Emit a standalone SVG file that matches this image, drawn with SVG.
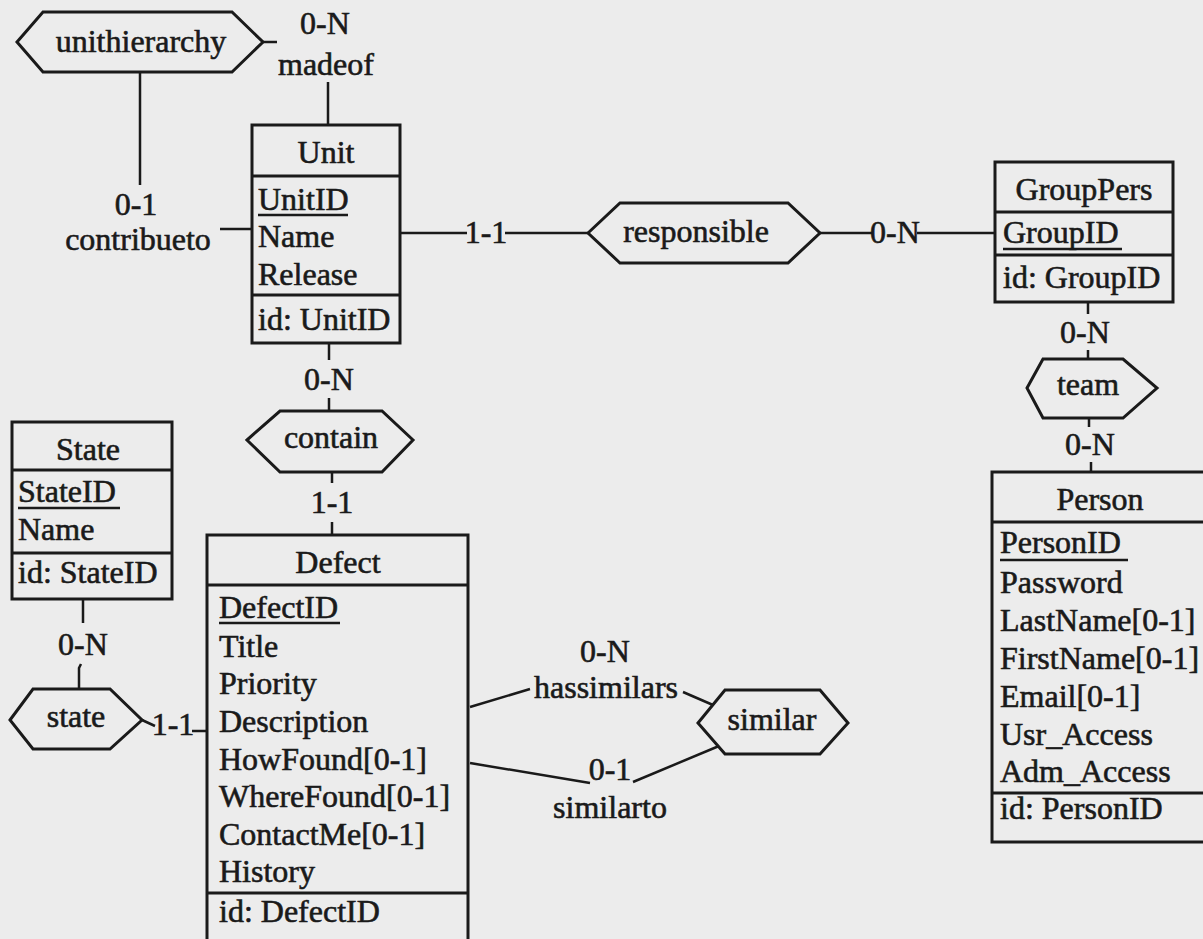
<svg xmlns="http://www.w3.org/2000/svg" width="1203" height="939" viewBox="0 0 1203 939">
<style>
text{font-family:"Liberation Serif","DejaVu Serif",serif;font-size:32px;fill:#1a1a1a;stroke:#1a1a1a;stroke-width:0.6}
.c{text-anchor:middle}
.box{fill:none;stroke:#1a1a1a;stroke-width:3}
.sep{stroke:#1a1a1a;stroke-width:3}
.ul{stroke:#1a1a1a;stroke-width:2.5}
.hex{fill:none;stroke:#1a1a1a;stroke-width:3;stroke-linejoin:miter}
.ln{fill:none;stroke:#1a1a1a;stroke-width:2.5}
</style>
<rect x="0" y="0" width="1203" height="939" fill="#ececec"/>

<g id="connectors">
  <line class="ln" x1="263" y1="42" x2="277" y2="42"/>
  <line class="ln" x1="328" y1="82" x2="328" y2="125"/>
  <line class="ln" x1="140" y1="72" x2="140" y2="185"/>
  <line class="ln" x1="220" y1="229" x2="252" y2="229"/>
  <line class="ln" x1="400" y1="233" x2="467" y2="233"/>
  <line class="ln" x1="505" y1="233" x2="588" y2="233"/>
  <line class="ln" x1="820" y1="233" x2="873" y2="233"/>
  <line class="ln" x1="917" y1="233" x2="995" y2="233"/>
  <line class="ln" x1="1088" y1="302" x2="1088" y2="314"/>
  <line class="ln" x1="1088" y1="350" x2="1088" y2="359"/>
  <line class="ln" x1="1089" y1="418" x2="1089" y2="427"/>
  <line class="ln" x1="1091" y1="462" x2="1091" y2="472"/>
  <line class="ln" x1="329" y1="343" x2="329" y2="360"/>
  <line class="ln" x1="329" y1="398" x2="329" y2="411"/>
  <line class="ln" x1="332" y1="472" x2="332" y2="483"/>
  <line class="ln" x1="332" y1="522" x2="332" y2="535"/>
  <line class="ln" x1="83" y1="599" x2="83" y2="623"/>
  <polyline class="ln" points="81,664 79,668 79,689"/>
  <polyline class="ln" points="142,720 155,726"/>
  <line class="ln" x1="192" y1="731" x2="207" y2="731"/>
  <polyline class="ln" points="470,707 530,689"/>
  <polyline class="ln" points="683,692 713,705"/>
  <polyline class="ln" points="470,763 590,783"/>
  <polyline class="ln" points="633,782 719,746"/>
</g>

<g id="labels">
  <text class="c" x="325" y="34">0-N</text>
  <text class="c" x="326" y="75">madeof</text>
  <text class="c" x="136" y="215">0-1</text>
  <text class="c" x="138" y="250">contribueto</text>
  <text class="c" x="486" y="243">1-1</text>
  <text class="c" x="895" y="243">0-N</text>
  <text class="c" x="1085" y="343">0-N</text>
  <text class="c" x="1090" y="455">0-N</text>
  <text class="c" x="329" y="390">0-N</text>
  <text class="c" x="332" y="513">1-1</text>
  <text class="c" x="83" y="655">0-N</text>
  <text class="c" x="173" y="735">1-1</text>
  <text class="c" x="605" y="662">0-N</text>
  <text class="c" x="606" y="698">hassimilars</text>
  <text class="c" x="610" y="780">0-1</text>
  <text class="c" x="610" y="818">similarto</text>
</g>

<g id="unithierarchy">
  <polygon class="hex" points="17,42 43,12 232,12 263,42 232,72 43,72"/>
  <text class="c" x="141" y="52">unithierarchy</text>
</g>

<g id="responsible">
  <polygon class="hex" points="588,233 620,203 788,203 820,233 788,263 620,263"/>
  <text class="c" x="696" y="242">responsible</text>
</g>

<g id="team">
  <polygon class="hex" points="1027,388 1043,359 1123,359 1157,388 1123,418 1043,418"/>
  <text class="c" x="1088" y="395">team</text>
</g>

<g id="contain">
  <polygon class="hex" points="247,440 280,411 382,411 413,440 382,472 280,472"/>
  <text class="c" x="331" y="448">contain</text>
</g>

<g id="state">
  <polygon class="hex" points="10,720 33,689 110,689 142,720 110,749 33,749"/>
  <text class="c" x="76" y="727">state</text>
</g>

<g id="similar">
  <polygon class="hex" points="698,723 725,690 820,690 848,723 820,754 725,754"/>
  <text class="c" x="772" y="730">similar</text>
</g>

<g id="Unit">
  <rect class="box" x="252" y="125" width="148" height="218"/>
  <line class="sep" x1="252" y1="176" x2="400" y2="176"/>
  <line class="sep" x1="252" y1="295" x2="400" y2="295"/>
  <text class="c" x="326" y="163">Unit</text>
  <text x="258" y="210">UnitID</text>
  <line class="ul" x1="258" y1="215" x2="348" y2="215"/>
  <text x="258" y="247">Name</text>
  <text x="258" y="285">Release</text>
  <text x="258" y="330">id: UnitID</text>
</g>

<g id="GroupPers">
  <rect class="box" x="995" y="162" width="178" height="140"/>
  <line class="sep" x1="995" y1="212" x2="1173" y2="212"/>
  <line class="sep" x1="995" y1="255" x2="1173" y2="255"/>
  <text class="c" x="1084" y="200">GroupPers</text>
  <text x="1003" y="243">GroupID</text>
  <line class="ul" x1="1003" y1="249" x2="1122" y2="249"/>
  <text x="1003" y="288">id: GroupID</text>
</g>

<g id="State">
  <rect class="box" x="12" y="422" width="160" height="177"/>
  <line class="sep" x1="12" y1="470" x2="172" y2="470"/>
  <line class="sep" x1="12" y1="553" x2="172" y2="553"/>
  <text class="c" x="88" y="460">State</text>
  <text x="18" y="502">StateID</text>
  <line class="ul" x1="18" y1="508" x2="120" y2="508"/>
  <text x="18" y="540">Name</text>
  <text x="18" y="583">id: StateID</text>
</g>

<g id="Defect">
  <rect class="box" x="207" y="535" width="261" height="420"/>
  <line class="sep" x1="207" y1="585" x2="468" y2="585"/>
  <line class="sep" x1="207" y1="893" x2="468" y2="893"/>
  <text class="c" x="338" y="573">Defect</text>
  <text x="219" y="618">DefectID</text>
  <line class="ul" x1="219" y1="623" x2="340" y2="623"/>
  <text x="219" y="657">Title</text>
  <text x="219" y="694">Priority</text>
  <text x="219" y="732">Description</text>
  <text x="219" y="770">HowFound[0-1]</text>
  <text x="219" y="807">WhereFound[0-1]</text>
  <text x="219" y="845">ContactMe[0-1]</text>
  <text x="219" y="882">History</text>
  <text x="219" y="922">id: DefectID</text>
</g>

<g id="Person">
  <rect class="box" x="992" y="472" width="225" height="370"/>
  <line class="sep" x1="992" y1="522" x2="1217" y2="522"/>
  <line class="sep" x1="992" y1="793" x2="1217" y2="793"/>
  <text class="c" x="1100" y="510">Person</text>
  <text x="1000" y="553">PersonID</text>
  <line class="ul" x1="1000" y1="560" x2="1128" y2="560"/>
  <text x="1000" y="593">Password</text>
  <text x="1000" y="631">LastName[0-1]</text>
  <text x="1000" y="669">FirstName[0-1]</text>
  <text x="1000" y="707">Email[0-1]</text>
  <text x="1000" y="745">Usr_Access</text>
  <text x="1000" y="782">Adm_Access</text>
  <text x="1000" y="819">id: PersonID</text>
</g>
</svg>
